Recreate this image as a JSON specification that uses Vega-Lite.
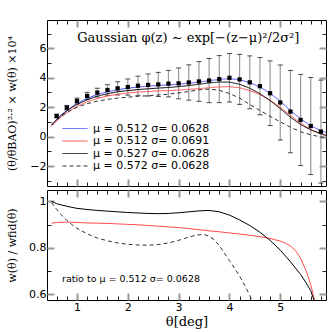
{
"$schema": "https://vega.github.io/schema/vega-lite/v6.json",
"padding": {"left": 5, "top": 18, "right": 0, "bottom": 0},
"spacing": 0,
"config": {
  "view": {"stroke": "#000", "strokeWidth": 1},
  "axis": {"grid": false, "domain": false, "labelFont": "DejaVu Sans", "labelFontSize": 11, "labelColor": "#000", "titleFont": "DejaVu Serif", "titleFontSize": 11, "titleFontWeight": "normal", "titleColor": "#000"}
},
"datasets": {
  "obs": [
    {"x":0.6,"y":1.40,"lo":1.28,"hi":1.52},
    {"x":0.8,"y":1.97,"lo":1.82,"hi":2.12},
    {"x":1.0,"y":2.42,"lo":2.22,"hi":2.62},
    {"x":1.2,"y":2.76,"lo":2.51,"hi":3.01},
    {"x":1.4,"y":2.99,"lo":2.69,"hi":3.29},
    {"x":1.6,"y":3.17,"lo":2.81,"hi":3.53},
    {"x":1.8,"y":3.28,"lo":2.83,"hi":3.73},
    {"x":2.0,"y":3.37,"lo":2.82,"hi":3.92},
    {"x":2.2,"y":3.46,"lo":2.81,"hi":4.11},
    {"x":2.4,"y":3.51,"lo":2.76,"hi":4.26},
    {"x":2.6,"y":3.55,"lo":2.73,"hi":4.37},
    {"x":2.8,"y":3.60,"lo":2.70,"hi":4.50},
    {"x":3.0,"y":3.62,"lo":2.57,"hi":4.67},
    {"x":3.2,"y":3.68,"lo":2.48,"hi":4.88},
    {"x":3.4,"y":3.75,"lo":2.40,"hi":5.10},
    {"x":3.6,"y":3.81,"lo":2.31,"hi":5.31},
    {"x":3.8,"y":3.91,"lo":2.31,"hi":5.51},
    {"x":4.0,"y":4.00,"lo":2.35,"hi":5.65},
    {"x":4.2,"y":3.89,"lo":2.19,"hi":5.59},
    {"x":4.4,"y":3.69,"lo":1.89,"hi":5.49},
    {"x":4.6,"y":3.43,"lo":1.48,"hi":5.38},
    {"x":4.8,"y":2.95,"lo":0.75,"hi":5.15},
    {"x":5.0,"y":2.32,"lo":-0.23,"hi":4.87},
    {"x":5.2,"y":1.70,"lo":-1.10,"hi":4.50},
    {"x":5.4,"y":1.13,"lo":-1.97,"hi":4.23},
    {"x":5.6,"y":0.72,"lo":-2.58,"hi":4.02},
    {"x":5.8,"y":0.34,"lo":-3.16,"hi":3.84}
  ],
  "models": [
    {"m":"b","x":0.5,"y":0.79},{"m":"b","x":0.6,"y":1.17},{"m":"b","x":0.7,"y":1.50},{"m":"b","x":0.8,"y":1.78},{"m":"b","x":0.9,"y":2.03},{"m":"b","x":1.0,"y":2.25},{"m":"b","x":1.2,"y":2.60},{"m":"b","x":1.4,"y":2.86},{"m":"b","x":1.6,"y":3.05},{"m":"b","x":1.8,"y":3.19},{"m":"b","x":2.0,"y":3.29},{"m":"b","x":2.2,"y":3.37},{"m":"b","x":2.4,"y":3.43},{"m":"b","x":2.6,"y":3.48},{"m":"b","x":2.8,"y":3.52},{"m":"b","x":3.0,"y":3.57},{"m":"b","x":3.2,"y":3.63},{"m":"b","x":3.4,"y":3.71},{"m":"b","x":3.6,"y":3.80},{"m":"b","x":3.8,"y":3.89},{"m":"b","x":4.0,"y":3.94},{"m":"b","x":4.2,"y":3.87},{"m":"b","x":4.4,"y":3.67},{"m":"b","x":4.6,"y":3.37},{"m":"b","x":4.8,"y":2.95},{"m":"b","x":5.0,"y":2.40},{"m":"b","x":5.2,"y":1.78},{"m":"b","x":5.4,"y":1.20},{"m":"b","x":5.6,"y":0.74},{"m":"b","x":5.8,"y":0.40},{"m":"b","x":5.9,"y":0.28},
    {"m":"r","x":0.5,"y":0.72},{"m":"r","x":0.6,"y":1.06},{"m":"r","x":0.7,"y":1.36},{"m":"r","x":0.8,"y":1.62},{"m":"r","x":0.9,"y":1.85},{"m":"r","x":1.0,"y":2.05},{"m":"r","x":1.2,"y":2.36},{"m":"r","x":1.4,"y":2.59},{"m":"r","x":1.6,"y":2.76},{"m":"r","x":1.8,"y":2.88},{"m":"r","x":2.0,"y":2.96},{"m":"r","x":2.2,"y":3.03},{"m":"r","x":2.4,"y":3.07},{"m":"r","x":2.6,"y":3.11},{"m":"r","x":2.8,"y":3.13},{"m":"r","x":3.0,"y":3.17},{"m":"r","x":3.2,"y":3.21},{"m":"r","x":3.4,"y":3.26},{"m":"r","x":3.6,"y":3.32},{"m":"r","x":3.8,"y":3.38},{"m":"r","x":4.0,"y":3.40},{"m":"r","x":4.2,"y":3.32},{"m":"r","x":4.4,"y":3.13},{"m":"r","x":4.6,"y":2.86},{"m":"r","x":4.8,"y":2.48},{"m":"r","x":5.0,"y":1.99},{"m":"r","x":5.2,"y":1.44},{"m":"r","x":5.4,"y":0.91},{"m":"r","x":5.6,"y":0.47},{"m":"r","x":5.8,"y":0.19},{"m":"r","x":5.9,"y":0.08},
    {"m":"k","x":0.5,"y":0.79},{"m":"k","x":0.6,"y":1.16},{"m":"k","x":0.7,"y":1.48},{"m":"k","x":0.8,"y":1.74},{"m":"k","x":0.9,"y":1.98},{"m":"k","x":1.0,"y":2.18},{"m":"k","x":1.2,"y":2.51},{"m":"k","x":1.4,"y":2.75},{"m":"k","x":1.6,"y":2.92},{"m":"k","x":1.8,"y":3.05},{"m":"k","x":2.0,"y":3.13},{"m":"k","x":2.2,"y":3.20},{"m":"k","x":2.4,"y":3.25},{"m":"k","x":2.6,"y":3.30},{"m":"k","x":2.8,"y":3.34},{"m":"k","x":3.0,"y":3.40},{"m":"k","x":3.2,"y":3.47},{"m":"k","x":3.4,"y":3.56},{"m":"k","x":3.6,"y":3.65},{"m":"k","x":3.8,"y":3.71},{"m":"k","x":4.0,"y":3.71},{"m":"k","x":4.2,"y":3.56},{"m":"k","x":4.4,"y":3.29},{"m":"k","x":4.6,"y":2.92},{"m":"k","x":4.8,"y":2.45},{"m":"k","x":5.0,"y":1.90},{"m":"k","x":5.2,"y":1.32},{"m":"k","x":5.4,"y":0.82},{"m":"k","x":5.6,"y":0.46},{"m":"k","x":5.8,"y":0.19},{"m":"k","x":5.9,"y":0.08},
    {"m":"d","x":0.5,"y":0.79},{"m":"d","x":0.6,"y":1.13},{"m":"d","x":0.7,"y":1.41},{"m":"d","x":0.8,"y":1.63},{"m":"d","x":0.9,"y":1.83},{"m":"d","x":1.0,"y":1.99},{"m":"d","x":1.2,"y":2.24},{"m":"d","x":1.4,"y":2.41},{"m":"d","x":1.6,"y":2.53},{"m":"d","x":1.8,"y":2.62},{"m":"d","x":2.0,"y":2.68},{"m":"d","x":2.2,"y":2.74},{"m":"d","x":2.4,"y":2.78},{"m":"d","x":2.6,"y":2.83},{"m":"d","x":2.8,"y":2.89},{"m":"d","x":3.0,"y":2.97},{"m":"d","x":3.2,"y":3.07},{"m":"d","x":3.4,"y":3.18},{"m":"d","x":3.6,"y":3.23},{"m":"d","x":3.8,"y":3.15},{"m":"d","x":4.0,"y":2.93},{"m":"d","x":4.2,"y":2.62},{"m":"d","x":4.4,"y":2.18},{"m":"d","x":4.6,"y":1.78},{"m":"d","x":4.8,"y":1.38},{"m":"d","x":5.0,"y":1.00},{"m":"d","x":5.2,"y":0.64},{"m":"d","x":5.4,"y":0.33},{"m":"d","x":5.6,"y":0.12},{"m":"d","x":5.8,"y":-0.02},{"m":"d","x":5.9,"y":-0.08}
  ],
  "ratio": [
    {"m":"r","x":0.5,"r":0.906},{"m":"r","x":0.6,"r":0.909},{"m":"r","x":0.8,"r":0.911},{"m":"r","x":1.0,"r":0.909},{"m":"r","x":1.2,"r":0.907},{"m":"r","x":1.4,"r":0.906},{"m":"r","x":1.6,"r":0.905},{"m":"r","x":1.8,"r":0.903},{"m":"r","x":2.0,"r":0.901},{"m":"r","x":2.2,"r":0.899},{"m":"r","x":2.4,"r":0.896},{"m":"r","x":2.6,"r":0.893},{"m":"r","x":2.8,"r":0.89},{"m":"r","x":3.0,"r":0.887},{"m":"r","x":3.2,"r":0.883},{"m":"r","x":3.4,"r":0.878},{"m":"r","x":3.6,"r":0.873},{"m":"r","x":3.8,"r":0.869},{"m":"r","x":4.0,"r":0.864},{"m":"r","x":4.2,"r":0.859},{"m":"r","x":4.4,"r":0.854},{"m":"r","x":4.6,"r":0.848},{"m":"r","x":4.8,"r":0.84},{"m":"r","x":5.0,"r":0.829},{"m":"r","x":5.1,"r":0.82},{"m":"r","x":5.2,"r":0.808},{"m":"r","x":5.3,"r":0.788},{"m":"r","x":5.4,"r":0.755},{"m":"r","x":5.5,"r":0.705},{"m":"r","x":5.55,"r":0.675},{"m":"r","x":5.6,"r":0.64},{"m":"r","x":5.65,"r":0.598},{"m":"r","x":5.7,"r":0.55},
    {"m":"k","x":0.5,"r":1.0},{"m":"k","x":0.6,"r":0.99},{"m":"k","x":0.7,"r":0.984},{"m":"k","x":0.8,"r":0.979},{"m":"k","x":0.9,"r":0.974},{"m":"k","x":1.0,"r":0.97},{"m":"k","x":1.2,"r":0.965},{"m":"k","x":1.4,"r":0.961},{"m":"k","x":1.6,"r":0.958},{"m":"k","x":1.8,"r":0.955},{"m":"k","x":2.0,"r":0.952},{"m":"k","x":2.2,"r":0.95},{"m":"k","x":2.4,"r":0.948},{"m":"k","x":2.6,"r":0.947},{"m":"k","x":2.8,"r":0.948},{"m":"k","x":3.0,"r":0.951},{"m":"k","x":3.2,"r":0.955},{"m":"k","x":3.4,"r":0.959},{"m":"k","x":3.6,"r":0.961},{"m":"k","x":3.8,"r":0.955},{"m":"k","x":4.0,"r":0.941},{"m":"k","x":4.2,"r":0.92},{"m":"k","x":4.4,"r":0.896},{"m":"k","x":4.6,"r":0.867},{"m":"k","x":4.8,"r":0.832},{"m":"k","x":5.0,"r":0.79},{"m":"k","x":5.2,"r":0.74},{"m":"k","x":5.4,"r":0.685},{"m":"k","x":5.5,"r":0.652},{"m":"k","x":5.6,"r":0.615},{"m":"k","x":5.7,"r":0.55},
    {"m":"d","x":0.5,"r":0.995},{"m":"d","x":0.6,"r":0.965},{"m":"d","x":0.7,"r":0.94},{"m":"d","x":0.8,"r":0.918},{"m":"d","x":0.9,"r":0.9},{"m":"d","x":1.0,"r":0.884},{"m":"d","x":1.2,"r":0.86},{"m":"d","x":1.4,"r":0.842},{"m":"d","x":1.6,"r":0.83},{"m":"d","x":1.8,"r":0.821},{"m":"d","x":2.0,"r":0.815},{"m":"d","x":2.2,"r":0.812},{"m":"d","x":2.4,"r":0.811},{"m":"d","x":2.6,"r":0.814},{"m":"d","x":2.8,"r":0.821},{"m":"d","x":3.0,"r":0.832},{"m":"d","x":3.2,"r":0.846},{"m":"d","x":3.35,"r":0.855},{"m":"d","x":3.5,"r":0.857},{"m":"d","x":3.6,"r":0.85},{"m":"d","x":3.7,"r":0.835},{"m":"d","x":3.8,"r":0.81},{"m":"d","x":3.9,"r":0.777},{"m":"d","x":4.0,"r":0.745},{"m":"d","x":4.1,"r":0.712},{"m":"d","x":4.2,"r":0.678},{"m":"d","x":4.3,"r":0.638},{"m":"d","x":4.4,"r":0.595},{"m":"d","x":4.45,"r":0.57}
  ]
},
"vconcat": [
  {
    "width": 279, "height": 166,
    "resolve": {"axis": {"x": "independent", "y": "independent"}},
    "layer": [
      {"data": {"name": "obs"}, "mark": {"type": "rule", "color": "#999999", "strokeWidth": 1.2},
       "encoding": {
         "x": {"field": "x", "type": "quantitative", "scale": {"domain": [0.41, 5.9], "nice": false, "zero": false}, "axis": {"orient": "bottom", "values": [1,2,3,4,5], "labels": false, "tickSize": -7, "tickWidth": 2, "tickColor": "#999999", "title": null}},
         "y": {"field": "lo", "type": "quantitative", "scale": {"domain": [-3.36, 7.93], "nice": false, "zero": false}, "axis": {"orient": "left", "values": [-2,0,2,4,6], "format": "~g", "tickSize": -7, "tickWidth": 2, "tickColor": "#999999", "labelPadding": 8, "minExtent": 26, "maxExtent": 26, "titlePadding": 4, "title": "(θ/θBAO)²·² × w(θ) ×10⁴"}},
         "y2": {"field": "hi"}
       }},
      {"data": {"name": "obs"}, "mark": {"type": "tick", "orient": "horizontal", "size": 5, "thickness": 1, "color": "#000"},
       "encoding": {
         "x": {"field": "x", "type": "quantitative", "axis": {"orient": "bottom", "values": [0.6,0.8,1.2,1.4,1.6,1.8,2.2,2.4,2.6,2.8,3.2,3.4,3.6,3.8,4.2,4.4,4.6,4.8,5.2,5.4,5.6,5.8], "labels": false, "tickSize": -4, "tickWidth": 1, "tickColor": "#222", "title": null}},
         "y": {"field": "lo", "type": "quantitative", "axis": {"orient": "right", "values": [-2,0,2,4,6], "labels": false, "tickSize": -7, "tickWidth": 2, "tickColor": "#999999", "title": null}}
       }},
      {"data": {"name": "obs"}, "mark": {"type": "tick", "orient": "horizontal", "size": 5, "thickness": 1, "color": "#000"},
       "encoding": {
         "x": {"field": "x", "type": "quantitative", "axis": {"orient": "top", "values": [1,2,3,4,5], "labels": false, "tickSize": -7, "tickWidth": 2, "tickColor": "#999999", "title": null}},
         "y": {"field": "hi", "type": "quantitative", "axis": {"orient": "left", "values": [-3,-1,1,3,5,7], "labels": false, "tickSize": -4, "tickWidth": 1, "tickColor": "#222", "title": null}}
       }},
      {"data": {"name": "models"}, "mark": {"type": "line", "strokeWidth": 1},
       "encoding": {
         "x": {"field": "x", "type": "quantitative", "axis": null},
         "y": {"field": "y", "type": "quantitative", "axis": null},
         "color": {"field": "m", "type": "nominal", "scale": {"domain": ["b","r","k","d"], "range": ["#4a4aff","#ff4a4a","#000000","#333333"]},
           "legend": {"orient": "none", "legendX": 15, "legendY": 103, "title": null, "padding": 0, "symbolType": "stroke", "symbolSize": 625, "symbolStrokeWidth": 1, "labelOffset": 5, "labelFont": "DejaVu Sans", "labelFontSize": 11, "labelColor": "#000", "rowPadding": 0.5, "clipHeight": 11,
             "labelExpr": "datum.label == 'b' ? 'μ = 0.512  σ= 0.0628' : datum.label == 'r' ? 'μ = 0.512  σ= 0.0691' : datum.label == 'k' ? 'μ = 0.527  σ= 0.0628' : 'μ = 0.572  σ= 0.0628'"}},
         "strokeDash": {"field": "m", "type": "nominal", "scale": {"domain": ["b","r","k","d"], "range": [[1,0],[1,0],[1,0],[4,3]]},
           "legend": {"orient": "none", "legendX": 15, "legendY": 103, "title": null, "padding": 0, "symbolType": "stroke", "symbolSize": 625, "symbolStrokeWidth": 1, "labelOffset": 5, "labelFont": "DejaVu Sans", "labelFontSize": 11, "labelColor": "#000", "rowPadding": 0.5, "clipHeight": 11,
             "labelExpr": "datum.label == 'b' ? 'μ = 0.512  σ= 0.0628' : datum.label == 'r' ? 'μ = 0.512  σ= 0.0691' : datum.label == 'k' ? 'μ = 0.527  σ= 0.0628' : 'μ = 0.572  σ= 0.0628'"}}
       }},
      {"data": {"name": "obs"}, "mark": {"type": "square", "size": 18, "color": "#000", "opacity": 1},
       "encoding": {
         "x": {"field": "x", "type": "quantitative", "axis": {"orient": "top", "values": [0.6,0.8,1.2,1.4,1.6,1.8,2.2,2.4,2.6,2.8,3.2,3.4,3.6,3.8,4.2,4.4,4.6,4.8,5.2,5.4,5.6,5.8], "labels": false, "tickSize": -4, "tickWidth": 1, "tickColor": "#222", "title": null}},
         "y": {"field": "y", "type": "quantitative", "axis": {"orient": "right", "values": [-3,-1,1,3,5,7], "labels": false, "tickSize": -4, "tickWidth": 1, "tickColor": "#222", "title": null}}
       }},
      {"data": {"values": [{}]}, "mark": {"type": "text", "font": "DejaVu Serif", "fontSize": 13, "align": "center", "baseline": "middle", "color": "#000"},
       "encoding": {
         "x": {"datum": 3.19, "type": "quantitative", "axis": null},
         "y": {"datum": 6.69, "type": "quantitative", "axis": null},
         "text": {"value": "Gaussian φ(z) ~ exp[−(z−μ)²/2σ²]"}
       }}
    ]
  },
  {
    "width": 279, "height": 110,
    "resolve": {"axis": {"x": "independent", "y": "independent"}},
    "layer": [
      {"data": {"name": "ratio"}, "transform": [{"filter": "datum.m == 'r'"}], "mark": {"type": "line", "color": "#ff4a4a", "strokeWidth": 1, "clip": true},
       "encoding": {
         "x": {"field": "x", "type": "quantitative", "scale": {"domain": [0.41, 5.9], "nice": false, "zero": false}, "axis": {"orient": "bottom", "values": [1,2,3,4,5], "format": "~g", "tickSize": -7, "tickWidth": 2, "tickColor": "#999999", "labelPadding": 8, "titlePadding": 3, "titleFontSize": 13, "title": "θ[deg]"}},
         "y": {"field": "r", "type": "quantitative", "scale": {"domain": [0.575, 1.049], "nice": false, "zero": false}, "axis": {"orient": "left", "values": [0.6,0.8,1], "format": "~g", "tickSize": -7, "tickWidth": 2, "tickColor": "#999999", "labelPadding": 8, "minExtent": 26, "maxExtent": 26, "titlePadding": 4, "title": "w(θ) / wfid(θ)"}}
       }},
      {"data": {"name": "ratio"}, "transform": [{"filter": "datum.m == 'k'"}], "mark": {"type": "line", "color": "#000000", "strokeWidth": 1, "clip": true},
       "encoding": {
         "x": {"field": "x", "type": "quantitative", "axis": {"orient": "bottom", "values": [0.6,0.8,1.2,1.4,1.6,1.8,2.2,2.4,2.6,2.8,3.2,3.4,3.6,3.8,4.2,4.4,4.6,4.8,5.2,5.4,5.6,5.8], "labels": false, "tickSize": -4, "tickWidth": 1, "tickColor": "#222", "title": null}},
         "y": {"field": "r", "type": "quantitative", "axis": {"orient": "right", "values": [0.6,0.8,1], "labels": false, "tickSize": -7, "tickWidth": 2, "tickColor": "#999999", "title": null}}
       }},
      {"data": {"name": "ratio"}, "transform": [{"filter": "datum.m == 'd'"}], "mark": {"type": "line", "color": "#333333", "strokeWidth": 1, "strokeDash": [4,3], "clip": true},
       "encoding": {
         "x": {"field": "x", "type": "quantitative", "axis": {"orient": "top", "values": [1,2,3,4,5], "labels": false, "tickSize": -7, "tickWidth": 2, "tickColor": "#999999", "title": null}},
         "y": {"field": "r", "type": "quantitative", "axis": {"orient": "left", "values": [0.7,0.9], "labels": false, "tickSize": -4, "tickWidth": 1, "tickColor": "#222", "title": null}}
       }},
      {"data": {"values": [{}]}, "mark": {"type": "text", "font": "DejaVu Sans", "fontSize": 9.5, "align": "left", "baseline": "middle", "color": "#000"},
       "encoding": {
         "x": {"datum": 0.705, "type": "quantitative", "axis": {"orient": "top", "values": [0.6,0.8,1.2,1.4,1.6,1.8,2.2,2.4,2.6,2.8,3.2,3.4,3.6,3.8,4.2,4.4,4.6,4.8,5.2,5.4,5.6,5.8], "labels": false, "tickSize": -4, "tickWidth": 1, "tickColor": "#222", "title": null}},
         "y": {"datum": 0.664, "type": "quantitative", "axis": {"orient": "right", "values": [0.7,0.9], "labels": false, "tickSize": -4, "tickWidth": 1, "tickColor": "#222", "title": null}},
         "text": {"value": "ratio to μ = 0.512  σ= 0.0628"}
       }}
    ]
  }
]
}
